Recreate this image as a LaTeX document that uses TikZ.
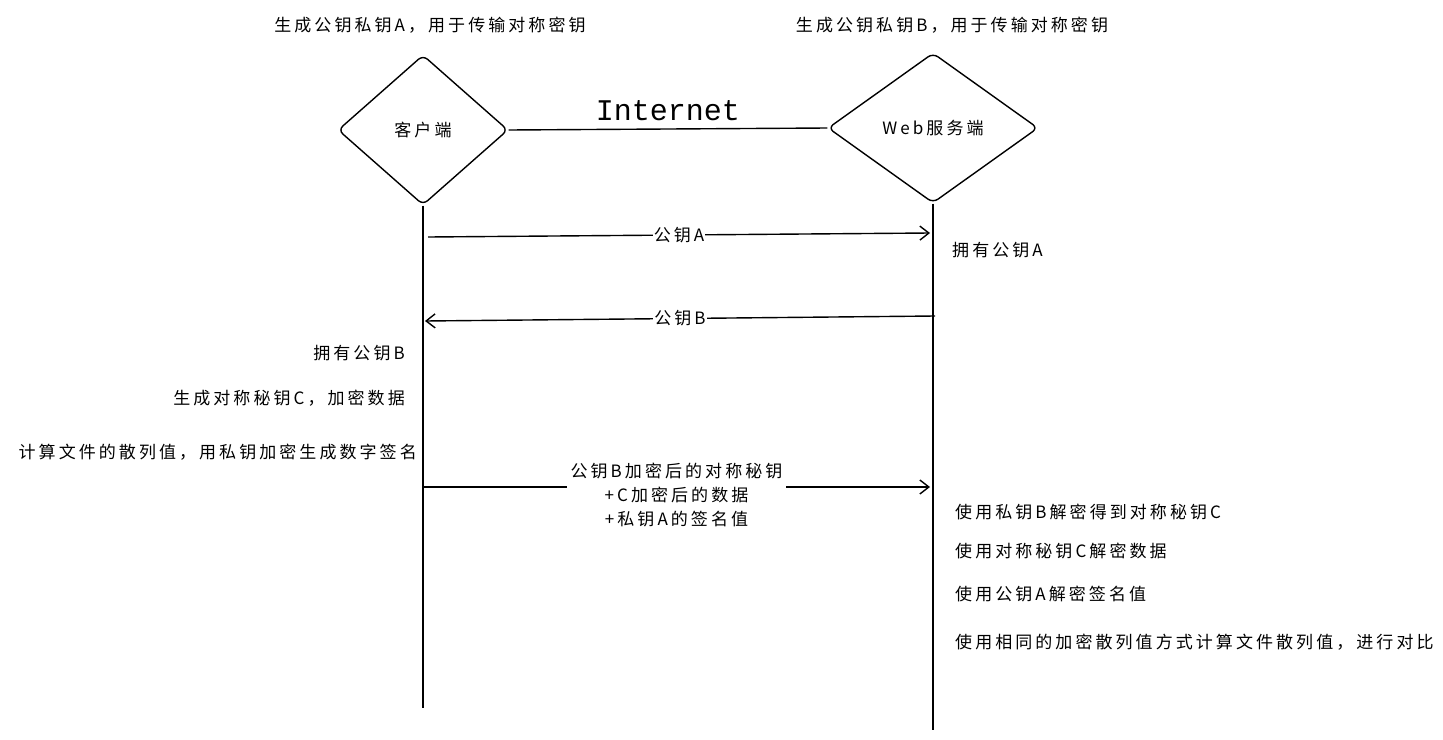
\documentclass[tikz,border=0pt]{standalone}
\usepackage{fontspec}
\setmainfont[LetterSpace=18]{Noto Sans CJK SC}
\newfontfamily\netfont{Liberation Mono}
\usetikzlibrary{arrows.meta,positioning,shapes.geometric}

\begin{document}
\begin{tikzpicture}[
    x=1pt, y=-1pt,
    font=\fontsize{17}{24}\selectfont,
    party/.style={draw, diamond, rounded corners=6pt, line width=1.4pt, inner sep=0pt},
    life/.style={line width=1.4pt},
    msg/.style={line width=1.4pt, -{Straight Barb[length=9pt,width=14pt]}},
    note/.style={inner sep=0pt}
]
    % Canvas
    \useasboundingbox (0,0) rectangle (1443,739);

    % Parties
    \node[party, minimum width=170pt, minimum height=150pt] (client) at (423,130) {客户端};
    \node[party, minimum width=210pt, minimum height=150pt] (server) at (933,128) {Web服务端};
    \node[note] (keyA) at (430,25) {生成公钥私钥A，用于传输对称密钥};
    \node[note] (keyB) at (952,25) {生成公钥私钥B，用于传输对称密钥};

    % Internet link
    \draw[life] (client.east) -- (server.west)
        node[midway, above=4pt, font=\netfont\fontsize{30}{34}\selectfont] (net) {Internet};

    % Lifelines
    \coordinate (clientEnd) at (423,708);
    \coordinate (serverEnd) at (933,730);
    \draw[life] (client.south) -- (clientEnd);
    \draw[life] (server.south) -- (serverEnd);

    % Messages
    \coordinate (m1s) at (428,237);
    \coordinate (m1e) at (930,233);
    \draw[msg] (m1s) -- (m1e) node[midway, fill=white, inner sep=1pt] (pubA) {公钥A};

    \coordinate (m2s) at (935,316);
    \coordinate (m2e) at (425,321);
    \draw[msg] (m2s) -- (m2e) node[midway, fill=white, inner sep=1pt] (pubB) {公钥B};

    \coordinate (m3s) at (423,487);
    \coordinate (m3e) at (930,487);
    \draw[msg] (m3s) -- (m3e) node[midway, yshift=-8pt, fill=white, align=center, inner sep=4pt] (bundle)
        {公钥B加密后的对称秘钥\\+C加密后的数据\\+私钥A的签名值};

    % Client notes
    \node[note, anchor=east] (hasB) at (405,353) {拥有公钥B};
    \node[note, anchor=east] (genC) at (405,398) {生成对称秘钥C，加密数据};
    \node[note, anchor=east] (sign) at (417,452) {计算文件的散列值，用私钥加密生成数字签名};

    % Server notes
    \node[note, anchor=west] (hasA) at (952,250) {拥有公钥A};
    \node[note, anchor=west] (decC) at (955,512) {使用私钥B解密得到对称秘钥C};
    \node[note, anchor=west] (decD) at (955,551) {使用对称秘钥C解密数据};
    \node[note, anchor=west] (decS) at (955,594) {使用公钥A解密签名值};
    \node[note, anchor=west] (cmp) at (955,642) {使用相同的加密散列值方式计算文件散列值，进行对比};
\end{tikzpicture}
\end{document}
